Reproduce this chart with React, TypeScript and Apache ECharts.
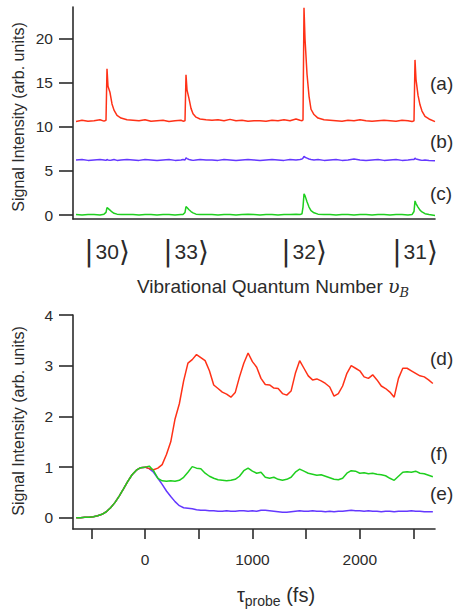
import React, { useEffect, useRef } from "react";
import * as echarts from "echarts";

// ---------- Top panel: spectra vs. vibrational level ----------
const ketPositions = [34, 113, 231, 342];
const ketLabels = ["30", "33", "32", "31"];
const topYTicks = [0, 5, 10, 15, 20];

const topX = [
  3, 9, 15, 21, 27, 31, 33,
  34, 35, 37, 39, 41, 44, 48, 54,
  60, 66, 72, 78, 84, 90, 96, 102, 108, 110, 112,
  113, 114, 116, 118, 120, 123, 127, 133,
  139, 145, 151, 157, 163, 169, 175, 181, 187, 193, 199, 205, 211, 217, 223, 227, 229, 230,
  231, 232, 234, 236, 238, 241, 245, 251,
  257, 263, 269, 275, 281, 287, 293, 299, 305, 311, 317, 323, 329, 335, 339, 341,
  342, 343, 345, 347, 349, 352, 356, 362,
];

const specA = [
  10.6, 10.75, 10.65, 10.7, 10.8, 10.65, 10.75,
  16.6, 14.6, 13.9, 12.6, 11.9, 11.3, 11.0, 10.8,
  10.75, 10.7, 10.8, 10.65, 10.7, 10.75, 10.6, 10.7, 10.75, 10.65, 10.7,
  15.9, 14.2, 13.2, 12.1, 11.5, 11.1, 10.9, 10.8,
  10.75, 10.8, 10.7, 10.85, 10.7, 10.75, 10.65, 10.7, 10.7, 10.65, 10.75, 10.7, 10.8, 10.7, 10.9, 10.75, 10.7, 10.8,
  23.5, 20.0, 16.0, 13.5, 12.0, 11.4, 11.0, 10.8,
  10.75, 10.7, 10.65, 10.75, 10.7, 10.8, 10.7, 10.65, 10.7, 10.75, 10.7, 10.65, 10.75, 10.7, 10.6, 10.7,
  17.6, 15.4, 13.6, 12.5, 11.8, 11.2, 10.9, 10.6,
];

const specB = [
  6.25, 6.3, 6.2, 6.25, 6.3, 6.25, 6.2,
  6.3, 6.25, 6.2, 6.25, 6.3, 6.2, 6.25, 6.3,
  6.25, 6.2, 6.3, 6.25, 6.2, 6.25, 6.3, 6.2, 6.25, 6.3, 6.25,
  6.5, 6.4, 6.3, 6.25, 6.2, 6.25, 6.3, 6.25,
  6.25, 6.2, 6.3, 6.25, 6.2, 6.25, 6.3, 6.25, 6.2, 6.25, 6.3, 6.25, 6.2, 6.3, 6.25, 6.3, 6.35, 6.45,
  6.65, 6.55, 6.45, 6.35, 6.3, 6.25, 6.3, 6.2,
  6.25, 6.3, 6.2, 6.25, 6.35, 6.25, 6.2, 6.25, 6.3, 6.2, 6.25, 6.3, 6.2, 6.25, 6.3, 6.3,
  6.45, 6.35, 6.3, 6.25, 6.2, 6.25, 6.2, 6.15,
];

const specC = [
  0.05, 0.0, 0.05, 0.05, 0.0, 0.1, 0.3,
  0.85, 0.75, 0.55, 0.35, 0.2, 0.1, 0.05, 0.05,
  0.05, 0.0, 0.05, 0.05, 0.0, 0.05, 0.05, 0.0, 0.05, 0.05, 0.3,
  0.95, 0.85, 0.6, 0.4, 0.25, 0.1, 0.05, 0.05,
  0.05, 0.0, 0.05, 0.05, 0.0, 0.05, 0.1, 0.05, 0.0, 0.05, 0.05, 0.0, 0.05, 0.05, 0.1, 0.05, 0.15, 0.9,
  2.4, 2.2, 1.5, 0.9, 0.5, 0.25, 0.1, 0.05,
  0.05, 0.0, 0.05, 0.05, 0.0, 0.05, 0.05, 0.0, 0.05, 0.05, 0.0, 0.05, 0.05, 0.0, 0.05, 0.4,
  1.6, 1.3, 0.9, 0.55, 0.35, 0.15, 0.05, -0.05,
];

// ---------- Bottom panel: transients vs. probe delay ----------
const tauTicks = [-500, 0, 500, 1000, 1500, 2000, 2500];
const tauLabels = [0, 1000, 2000];
const botYTicks = [0, 1, 2, 3, 4];

const tau = [
  -640, -600, -560, -520, -480, -440, -400, -360, -320, -280,
  -240, -200, -160, -120, -80, -40, 0, 40, 80, 120,
  160, 200, 240, 280, 320, 360, 400, 440, 480, 520,
  560, 600, 640, 680, 720, 760, 800, 840, 880, 920,
  960, 1000, 1040, 1080, 1120, 1160, 1200, 1240, 1280, 1320,
  1360, 1400, 1440, 1480, 1520, 1560, 1600, 1640, 1680, 1720,
  1760, 1800, 1840, 1880, 1920, 1960, 2000, 2040, 2080, 2120,
  2160, 2200, 2240, 2280, 2320, 2360, 2400, 2440, 2480, 2520,
  2560, 2600, 2640, 2680,
];

const traceD = [
  0.0, 0.0, 0.01, 0.01, 0.02, 0.04, 0.07, 0.12, 0.2, 0.3,
  0.43, 0.57, 0.72, 0.85, 0.94, 0.99, 1.0, 0.97, 0.95, 0.98,
  1.05, 1.25, 1.5, 1.95, 2.25, 2.7, 3.05, 3.12, 3.22, 3.16,
  3.1, 2.9, 2.62, 2.55, 2.48, 2.44, 2.38, 2.47, 2.78, 3.05,
  3.25, 3.08, 2.97, 2.75, 2.63, 2.62, 2.56, 2.55, 2.45, 2.42,
  2.5, 2.85, 3.1, 2.95, 2.8, 2.72, 2.74, 2.7, 2.65, 2.58,
  2.4, 2.45, 2.6, 2.85, 3.0, 2.95, 2.9, 2.78, 2.75, 2.82,
  2.72, 2.6, 2.55, 2.48, 2.38, 2.75, 2.95, 2.95, 2.9, 2.85,
  2.8, 2.78, 2.72, 2.65,
];

const traceE = [
  0.0, 0.0, 0.01, 0.01, 0.02, 0.04, 0.07, 0.12, 0.2, 0.3,
  0.43, 0.57, 0.72, 0.85, 0.94, 0.99, 1.0, 0.97, 0.9, 0.78,
  0.66, 0.53, 0.42, 0.32, 0.24, 0.2, 0.19, 0.18, 0.16, 0.15,
  0.15, 0.14, 0.14, 0.13, 0.13, 0.14, 0.13, 0.13, 0.14, 0.14,
  0.13, 0.14, 0.13, 0.15, 0.15, 0.14, 0.13, 0.12, 0.11, 0.11,
  0.12, 0.13, 0.14, 0.13, 0.13, 0.14, 0.13, 0.13, 0.12, 0.13,
  0.12, 0.13, 0.13, 0.14, 0.15, 0.14, 0.14, 0.13, 0.14, 0.13,
  0.13, 0.12, 0.13, 0.13, 0.12, 0.13, 0.13, 0.13, 0.14, 0.13,
  0.13, 0.12, 0.12, 0.12,
];

const traceF = [
  0.0, 0.0, 0.01, 0.01, 0.02, 0.04, 0.07, 0.12, 0.2, 0.3,
  0.43, 0.57, 0.72, 0.85, 0.94, 0.99, 1.0, 1.02, 0.93, 0.78,
  0.73, 0.72, 0.73, 0.72, 0.74, 0.8, 0.9, 1.01, 0.98, 0.97,
  0.88, 0.82, 0.78, 0.75, 0.74, 0.73, 0.74, 0.76, 0.82, 0.93,
  0.98, 0.92, 0.88, 0.9, 0.8, 0.78, 0.8, 0.76, 0.74, 0.76,
  0.8, 0.9, 0.96, 0.92, 0.88, 0.86, 0.84, 0.85, 0.82, 0.79,
  0.76, 0.75, 0.78, 0.88, 0.93, 0.92, 0.88, 0.89, 0.87, 0.88,
  0.86, 0.85, 0.83, 0.78, 0.74, 0.82, 0.9, 0.91, 0.9, 0.92,
  0.88, 0.87, 0.84, 0.81,
];

const FONT = '"Liberation Sans", Arial, Helvetica, sans-serif';
const INK = "#2b2b2b";
const RED = "#ff3117";
const BLUE = "#6438ff";
const GREEN = "#1fcf1f";

function pairs(xs: number[], ys: number[]) {
  return xs.map((x, i) => [x, ys[i]]);
}

export default function App() {
  const ref = useRef<HTMLDivElement>(null);

  useEffect(() => {
    if (!ref.current) return;
    const chart = echarts.init(ref.current, undefined, { renderer: "svg" });

    const axisLine = { show: true, onZero: false, lineStyle: { color: INK, width: 1.6 } };
    const tickStyle = { color: INK, width: 1.6 };
    const labelBase = {
      color: INK,
      fontFamily: FONT,
      fontSize: 15.5,
      formatter: (v: number) => String(v),
    };

    const lineSeries = (
      name: string,
      data: number[][],
      color: string,
      idx: number
    ) => ({
      name,
      type: "line",
      xAxisIndex: idx,
      yAxisIndex: idx,
      data,
      showSymbol: false,
      symbol: "none",
      lineStyle: { color, width: 1.5 },
      itemStyle: { color },
      z: 3,
    });

    const sideLabel = (text: string, y: number) => ({
      type: "text",
      left: 430,
      top: y - 11,
      style: { text, fill: INK, font: `19px ${FONT}` },
    });

    chart.setOption({
      animation: false,
      backgroundColor: "#ffffff",
      grid: [
        { left: 73, top: 7, width: 362, height: 212 },
        { left: 73, top: 315, width: 362, height: 214 },
      ],
      xAxis: [
        {
          gridIndex: 0,
          type: "value",
          min: 0,
          max: 362,
          axisLine,
          axisTick: { show: false },
          splitLine: { show: false },
          axisLabel: {
            show: true,
            customValues: ketPositions,
            margin: 16,
            formatter: (v: number) => {
              let best = 0;
              ketPositions.forEach((p, i) => {
                if (Math.abs(p - v) < Math.abs(ketPositions[best] - v)) best = i;
              });
              return `{bar||}{num|${ketLabels[best]}}{ang|⟩}`;
            },
            rich: {
              bar: { fontFamily: "DejaVu Sans", fontSize: 28, color: INK, lineHeight: 32, padding: [0, 2, 0, 0] },
              num: { fontFamily: FONT, fontSize: 21, color: INK, lineHeight: 32 },
              ang: { fontFamily: "DejaVu Sans", fontSize: 28, color: INK, lineHeight: 32 },
            },
          },
        },
        {
          gridIndex: 1,
          type: "value",
          min: -670,
          max: 2700,
          axisLine,
          axisTick: { show: true, customValues: tauTicks, length: 10, lineStyle: tickStyle },
          splitLine: { show: false },
          axisLabel: { ...labelBase, customValues: tauLabels, margin: 22 },
        },
      ],
      yAxis: [
        {
          gridIndex: 0,
          type: "value",
          min: -0.45,
          max: 23.6,
          axisLine,
          axisTick: { show: true, customValues: topYTicks, length: 14, lineStyle: tickStyle },
          splitLine: { show: false },
          axisLabel: { ...labelBase, customValues: topYTicks, margin: 20 },
        },
        {
          gridIndex: 1,
          type: "value",
          min: -0.22,
          max: 4,
          axisLine,
          axisTick: { show: true, customValues: botYTicks, length: 14, lineStyle: tickStyle },
          splitLine: { show: false },
          axisLabel: { ...labelBase, customValues: botYTicks, margin: 20 },
        },
      ],
      series: [
        lineSeries("(a)", pairs(topX, specA), RED, 0),
        lineSeries("(b)", pairs(topX, specB), BLUE, 0),
        lineSeries("(c)", pairs(topX, specC), GREEN, 0),
        lineSeries("(e)", pairs(tau, traceE), BLUE, 1),
        lineSeries("(d)", pairs(tau, traceD), RED, 1),
        lineSeries("(f)", pairs(tau, traceF), GREEN, 1),
      ],
      graphic: [
        {
          type: "text",
          x: 18,
          y: 117,
          rotation: Math.PI / 2,
          style: {
            text: "Signal Intensity (arb. units)",
            fill: INK,
            font: `16px ${FONT}`,
            textAlign: "center",
            textVerticalAlign: "middle",
          },
        },
        {
          type: "text",
          x: 18,
          y: 421,
          rotation: Math.PI / 2,
          style: {
            text: "Signal Intensity (arb. units)",
            fill: INK,
            font: `16px ${FONT}`,
            textAlign: "center",
            textVerticalAlign: "middle",
          },
        },
        {
          type: "text",
          x: 137,
          y: 286,
          style: {
            text: "Vibrational Quantum Number {v|υ}{s|B}",
            fill: INK,
            font: `19px ${FONT}`,
            textAlign: "left",
            textVerticalAlign: "middle",
            rich: {
              v: { fontFamily: "DejaVu Serif", fontStyle: "italic", fontSize: 19, fill: INK, lineHeight: 26, verticalAlign: "middle" },
              s: { fontFamily: "DejaVu Serif", fontStyle: "italic", fontSize: 13, fill: INK, lineHeight: 14, verticalAlign: "bottom" },
            },
          },
        },
        {
          type: "text",
          x: 276,
          y: 595,
          style: {
            text: "{t|τ}{s|probe}{t| (fs)}",
            fill: INK,
            textAlign: "center",
            textVerticalAlign: "middle",
            rich: {
              t: { fontFamily: FONT, fontSize: 20, fill: INK, lineHeight: 26, verticalAlign: "middle" },
              s: { fontFamily: FONT, fontSize: 14, fill: INK, lineHeight: 15, verticalAlign: "bottom" },
            },
          },
        },
        sideLabel("(a)", 85),
        sideLabel("(b)", 143),
        sideLabel("(c)", 195),
        sideLabel("(d)", 360),
        sideLabel("(f)", 455),
        sideLabel("(e)", 495),
      ],
    });

    return () => chart.dispose();
  }, []);

  return (
    <div
      ref={ref}
      style={{ position: "absolute", left: 0, top: 0, width: 455, height: 610, background: "#fff" }}
    />
  );
}
